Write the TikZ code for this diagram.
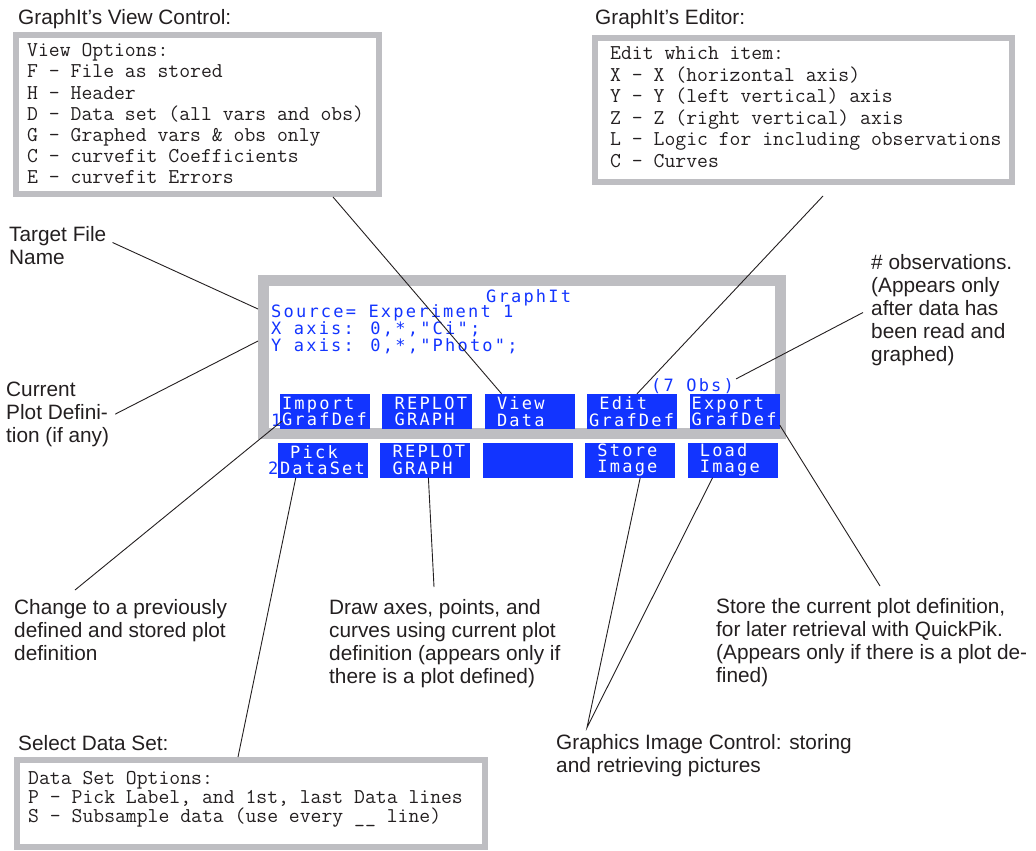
\documentclass[tikz,border=0pt]{standalone}
\usepackage{fontspec}
\setmainfont{Liberation Sans}
\newfontfamily\scrfont{DejaVu Sans Mono}[LetterSpace=13]
\usetikzlibrary{positioning, calc}
\definecolor{scrblue}{RGB}{18,52,255}
\definecolor{framegray}{RGB}{190,190,194}
\definecolor{inkgray}{RGB}{35,31,32}
\newcommand{\scrsp}{\phantom{0}}

\begin{document}
\begin{tikzpicture}[x=1pt, y=-1pt,
    note/.style={font=\fontsize{20.8}{23}\selectfont, text=inkgray, align=left, inner sep=0pt, anchor=north west},
    opttext/.style={font=\ttfamily\fontsize{21.1}{#1}\selectfont, text=inkgray, align=left, inner sep=0pt, anchor=north west},
    optbox/.style={draw=framegray, line width=6pt},
    scrtext/.style={font=\scrfont\fontsize{17}{17}\selectfont, text=scrblue, align=left, inner sep=0pt},
    btn/.style={fill=scrblue, text=white, font=\scrfont\fontsize{17}{16.5}\selectfont,
                text width=86pt, inner xsep=2pt, inner ysep=0pt, minimum height=35pt, align=left},
    leader/.style={draw=inkgray, line width=0.9pt}]
\useasboundingbox (0,0) rectangle (1036,851);

% option boxes
\node[note] (viewtitle) at (18,9.7) {GraphIt’s View Control:};
\node[optbox, minimum width=363pt, minimum height=159pt] (viewbox) at (197.5,114.5) {};
\node[opttext=21.1] (viewtext) at ([shift={(14pt,-11.5pt)}]viewbox.north west)
    {View Options:\\F – File as stored\\H – Header\\D – Data set (all vars and obs)\\G – Graphed vars \& obs only\\C – curvefit Coefficients\\E – curvefit Errors};

\node[note] (edittitle) at (595,9.7) {GraphIt’s Editor:};
\node[optbox, minimum width=417pt, minimum height=144pt] (editbox) at (803.5,110) {};
\node[opttext=21.5] (edittext) at ([shift={(18pt,-11.5pt)}]editbox.north west)
    {Edit which item:\\X – X (horizontal axis)\\Y – Y (left vertical) axis\\Z – Z (right vertical) axis\\L – Logic for including observations\\C – Curves};

\node[note] (dstitle) at (18,735.5) {Select Data Set:};
\node[optbox, minimum width=468pt, minimum height=87pt] (dsbox) at (251,803.5) {};
\node[opttext=19] (dstext) at ([shift={(14pt,-14pt)}]dsbox.north west)
    {Data Set Options:\\P – Pick Label, and 1st, last Data lines\\S – Subsample data (use every \_\_ line)};

% screen: frame, text and buttons
\node[draw=framegray, line width=11pt, minimum width=517pt, minimum height=153pt] (screen) at (522,357) {};
\node[scrtext, anchor=base west] (scrtitle) at (486,302.2) {GraphIt};
\node[scrtext, anchor=north west] (scrsource) at (271,304) {Source= Experiment 1\\X axis: 0,*,"Ci";\\Y axis: 0,*,"Photo";};
\node[scrtext, anchor=base west] (obs) at (651,391) {(7 Obs)};

\node[btn] (import) at (325,411.5) {Import\\GrafDef};
\node[btn, right=12pt of import] (replotA) {\scrsp REPLOT\\\scrsp GRAPH};
\node[btn, right=12pt of replotA] (view) {\scrsp View\\\scrsp Data};
\node[btn, right=12pt of view] (edit) {\scrsp Edit\\GrafDef};
\node[btn, right=12pt of edit] (export) {Export\\GrafDef};

\node[btn] (pick) at (323,460) {\scrsp Pick\\DataSet};
\node[btn, right=12pt of pick] (replotB) {\scrsp REPLOT\\\scrsp GRAPH};
\node[btn, right=12pt of replotB] (blankbtn) {};
\node[btn, right=12pt of blankbtn] (store) {\scrsp Store\\\scrsp Image};
\node[btn, right=12pt of store] (load) {\scrsp Load\\\scrsp Image};

\node[scrtext, anchor=base west] (rowone) at (271,426.2) {1};
\node[scrtext, anchor=base west] (rowtwo) at (268,474.2) {2};

% notes round the screen
\node[note] (target) at (9,226.5) {Target File\\Name};
\node[note] (current) at (6,381.5) {Current\\Plot Defini-\\tion (if any)};
\node[note] (obsnote) at (871,254.5) {\# observations.\\(Appears only\\after data has\\been read and\\graphed)};
\node[note] (change) at (14,599) {Change to a previously\\defined and stored plot\\definition};
\node[note] (drawnote) at (329,599) {Draw axes, points, and\\curves using current plot\\definition (appears only if\\there is a plot defined)};
\node[note] (storenote) at (716,598) {Store the current plot definition,\\for later retrieval with QuickPik.\\(Appears only if there is a plot de-\\fined)};
\node[note] (graphicsnote) at (556,734.5) {Graphics Image Control: storing\\and retrieving pictures};

% leader lines
\draw[leader] ([xshift=135.5pt]viewbox.south) -- ([xshift=17pt]view.north west);
\draw[leader] ([shift={(19.5pt,-11pt)}]editbox.south) -- ([xshift=50pt]edit.north west);
\draw[leader] ([shift={(6pt,-16pt)}]target.north east) -- ([yshift=-34pt]screen.north west);
\draw[leader] ([xshift=6pt]current.east) -- ([yshift=-66pt]screen.north west);
\draw[leader] ([shift={(-8pt,-58pt)}]obsnote.north west) -- ([shift={(2pt,-1pt)}]obs.north east);
\draw[leader] ([shift={(61pt,9pt)}]change.north west) -- ([shift={(2pt,8pt)}]import.south west);
\draw[leader] ([xshift=18pt]pick.south west) -- ([xshift=224pt]dsbox.north west);
\draw[leader] ([xshift=3pt]replotB.south) -- ([shift={(105pt,12pt)}]drawnote.north west);
\draw[leader] ([yshift=4pt]export.south east) -- ([shift={(164pt,12pt)}]storenote.north west);
\coordinate (apex) at ([shift={(31pt,7pt)}]graphicsnote.north west);
\draw[leader] ([xshift=10pt]store.south) -- (apex) -- ([xshift=-20pt]load.south);
\end{tikzpicture}
\end{document}
